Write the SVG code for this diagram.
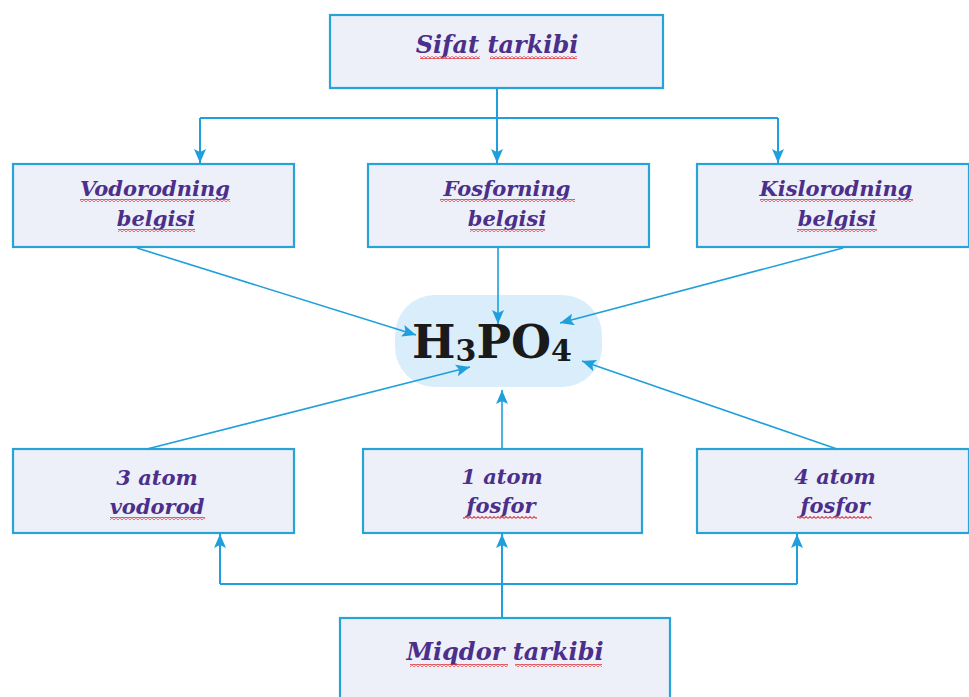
<svg xmlns="http://www.w3.org/2000/svg" width="969" height="697" viewBox="0 0 969 697">
<style>
.box{fill:#eef0f9;stroke:#27a3d8;stroke-width:2.2}
.t{font-family:"DejaVu Serif","Liberation Serif",serif;font-weight:bold;font-style:italic;fill:#4b2f8a;text-anchor:middle}
.t20{font-size:21px}
.t24{font-size:24px}
.c{fill:none;stroke:#1f9fdc;stroke-width:2}
.d{stroke-width:1.6}
.sq{fill:url(#wave)}
.f{font-family:"DejaVu Serif","Liberation Serif",serif;font-weight:bold;fill:#1a1a1a}
</style>
<defs>
<marker id="ah" viewBox="0 0 14 12" refX="14" refY="6" markerWidth="14" markerHeight="12" orient="auto" markerUnits="userSpaceOnUse">
<path d="M0,0 L14,6 L0,12 L3,6 Z" fill="#1f9fdc"/>
</marker>
<pattern id="wave" patternUnits="userSpaceOnUse" width="4" height="3">
<path d="M0,2.4 L2,0.6 L4,2.4" fill="none" stroke="#e0343c" stroke-width="1.1"/>
</pattern>
</defs>
<rect width="969" height="697" fill="#ffffff"/>

<g id="sifat">
<rect class="box" x="330" y="15" width="333" height="73"/>
<text class="t t24" x="497" y="53">Sifat tarkibi</text>
<rect class="sq" x="420" y="56" width="60" height="3"/>
<rect class="sq" x="490" y="56" width="87" height="3"/>
</g>

<g id="vodorodning">
<rect class="box" x="13" y="164" width="281" height="83"/>
<text class="t t20" x="155" y="196">Vodorodning</text>
<text class="t t20" x="156" y="226">belgisi</text>
<rect class="sq" x="80" y="199" width="150" height="3"/>
<rect class="sq" x="118" y="229" width="77" height="3"/>
</g>

<g id="fosforning">
<rect class="box" x="368" y="164" width="281" height="83"/>
<text class="t t20" x="507" y="196">Fosforning</text>
<text class="t t20" x="507" y="226">belgisi</text>
<rect class="sq" x="440" y="199" width="135" height="3"/>
<rect class="sq" x="470" y="229" width="75" height="3"/>
</g>

<g id="kislorodning">
<rect class="box" x="697" y="164" width="272" height="83"/>
<text class="t t20" x="836" y="196">Kislorodning</text>
<text class="t t20" x="837" y="226">belgisi</text>
<rect class="sq" x="760" y="199" width="153" height="3"/>
<rect class="sq" x="797" y="229" width="80" height="3"/>
</g>

<g id="h3po4">
<rect x="395" y="295" width="207" height="92" rx="40" ry="40" fill="#d9edfa"/>
<text class="f" x="492" y="358" text-anchor="middle" font-size="46">H<tspan font-size="30" dy="3">3</tspan><tspan dy="-3">PO</tspan><tspan font-size="30" dy="3">4</tspan></text>
</g>

<g id="vodorod3">
<rect class="box" x="13" y="449" width="281" height="84"/>
<text class="t t20" x="157" y="485">3 atom</text>
<text class="t t20" x="157" y="514">vodorod</text>
<rect class="sq" x="110" y="517" width="95" height="3"/>
</g>

<g id="fosfor1">
<rect class="box" x="363" y="449" width="279" height="84"/>
<text class="t t20" x="502" y="484">1 atom</text>
<text class="t t20" x="501" y="513">fosfor</text>
<rect class="sq" x="463" y="516" width="74" height="3"/>
</g>

<g id="fosfor4">
<rect class="box" x="697" y="449" width="272" height="84"/>
<text class="t t20" x="835" y="484">4 atom</text>
<text class="t t20" x="835" y="513">fosfor</text>
<rect class="sq" x="797" y="516" width="75" height="3"/>
</g>

<g id="miqdor">
<rect class="box" x="340" y="618" width="330" height="85"/>
<text class="t t24" x="505" y="660">Miqdor tarkibi</text>
<rect class="sq" x="410" y="664" width="98" height="3"/>
<rect class="sq" x="515" y="664" width="87" height="3"/>
</g>

<g id="connectors">
<path class="c" d="M497,88 V118"/>
<path class="c" d="M200,118 H778"/>
<path class="c" d="M497,118 V163" marker-end="url(#ah)"/>
<path class="c" d="M200,118 V163" marker-end="url(#ah)"/>
<path class="c" d="M778,118 V163" marker-end="url(#ah)"/>
<path class="c d" d="M137,248 L416,335" marker-end="url(#ah)"/>
<path class="c d" d="M498,248 V324" marker-end="url(#ah)"/>
<path class="c d" d="M843,248 L560,323" marker-end="url(#ah)"/>
<path class="c d" d="M147,449 L470,367" marker-end="url(#ah)"/>
<path class="c d" d="M502,448 V390" marker-end="url(#ah)"/>
<path class="c d" d="M837,449 L582,361" marker-end="url(#ah)"/>
<path class="c" d="M220,584 H797"/>
<path class="c" d="M220,584 V534" marker-end="url(#ah)"/>
<path class="c" d="M797,584 V534" marker-end="url(#ah)"/>
<path class="c" d="M502,617 V534" marker-end="url(#ah)"/>
</g>
</svg>
